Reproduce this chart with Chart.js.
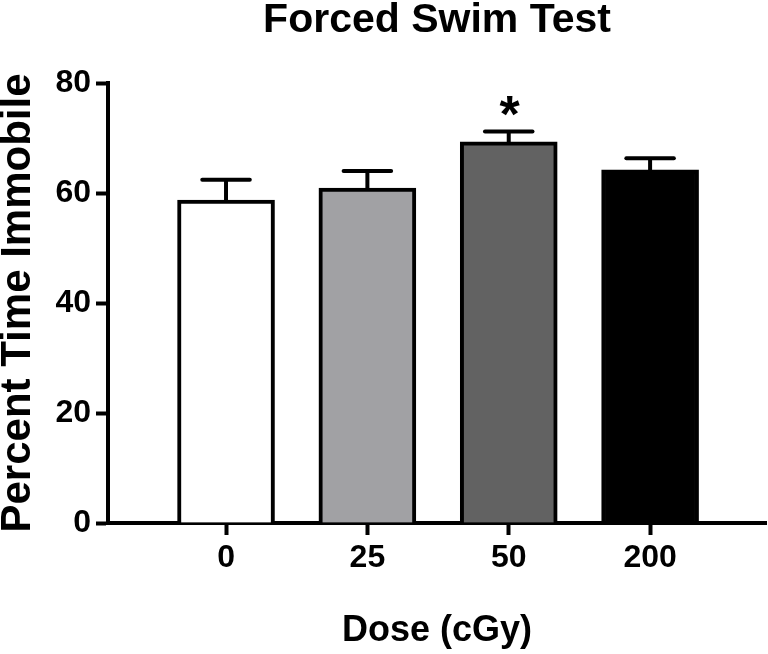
<!DOCTYPE html>
<html>
<head>
<meta charset="utf-8">
<script src="https://cdn.jsdelivr.net/npm/chart.js@4.4.0/dist/chart.umd.min.js"></script>
<style>
  html, body { margin: 0; padding: 0; background: #ffffff; }
  #wrap { width: 768px; height: 654px; position: relative; }
</style>
</head>
<body>
<div id="wrap"><canvas id="c"></canvas></div>
<script>
// ---- data ----
const chartTitle = 'Forced Swim Test';
const xAxisTitle = 'Dose (cGy)';
const yAxisTitle = 'Percent Time Immobile';
const doses = ['0', '25', '50', '200'];
const meanImmobile = [58.7, 60.9, 69.3, 64.2];
const semImmobile = [3.7, 3.1, 1.9, 2.1];
const significance = ['', '', '*', ''];
const yTicks = [0, 20, 40, 60, 80];
const barColors = ['#ffffff', '#a1a1a4', '#626262', '#000000'];

const FONT = '"Liberation Sans", Arial, Helvetica, sans-serif';

const errorBarPlugin = {
  id: 'errorBars',
  afterDatasetsDraw(chart) {
    const ctx = chart.ctx;
    const meta = chart.getDatasetMeta(0);
    const ys = chart.scales.y;
    ctx.save();
    ctx.strokeStyle = '#000';
    ctx.fillStyle = '#000';
    ctx.lineWidth = 4;
    meta.data.forEach((bar, i) => {
      const x = bar.x;
      const yTop = ys.getPixelForValue(meanImmobile[i]);
      const yCap = ys.getPixelForValue(meanImmobile[i] + semImmobile[i]);
      const half = bar.width * 0.245;
      ctx.lineCap = 'butt';
      ctx.beginPath();
      ctx.moveTo(x, yTop + 2);
      ctx.lineTo(x, yCap);
      ctx.stroke();
      ctx.lineCap = 'round';
      ctx.beginPath();
      ctx.moveTo(x - half, yCap);
      ctx.lineTo(x + half, yCap);
      ctx.stroke();
      if (significance[i]) {
        ctx.font = 'bold 52px ' + FONT;
        ctx.textAlign = 'center';
        ctx.textBaseline = 'alphabetic';
        ctx.fillText(significance[i], x + 1, yCap + 1);
      }
    });
    ctx.restore();
  }
};

new Chart(document.getElementById('c'), {
  type: 'bar',
  data: {
    datasets: [{
      data: doses.map((d, i) => ({ x: i, y: meanImmobile[i] })),
      backgroundColor: barColors,
      borderColor: '#000000',
      borderWidth: 4,
      borderSkipped: 'start',
      barThickness: 97
    }]
  },
  options: {
    responsive: true,
    maintainAspectRatio: false,
    animation: false,
    layout: { padding: { left: 0, right: 2, top: 0, bottom: 0 } },
    plugins: {
      legend: { display: false },
      tooltip: { enabled: false },
      title: {
        display: true,
        text: chartTitle,
        fullSize: false,
        color: '#000',
        font: { family: FONT, size: 41, weight: 'bold', lineHeight: 1 },
        padding: { top: 0, bottom: 42 }
      }
    },
    scales: {
      x: {
        type: 'linear',
        offset: false,
        min: -0.835,
        max: 3.82,
        afterBuildTicks: (axis) => { axis.ticks = doses.map((d, i) => ({ value: i })); },
        afterFit: (scale) => { scale.height = 131; },
        ticks: {
          callback: (v) => doses[v],
          color: '#000',
          font: { family: FONT, size: 32, weight: 'bold' },
          padding: 4,
          maxRotation: 0,
          autoSkip: false
        },
        grid: {
          display: true,
          offset: false,
          drawOnChartArea: false,
          drawTicks: true,
          tickLength: 12,
          tickWidth: 4,
          tickColor: '#000',
          color: '#000'
        },
        border: { display: true, color: '#000', width: 4 },
        title: {
          display: true,
          text: xAxisTitle,
          color: '#000',
          font: { family: FONT, size: 36, weight: 'bold', lineHeight: 1 },
          padding: { top: 0, bottom: 5 }
        }
      },
      y: {
        min: yTicks[0],
        max: yTicks[yTicks.length - 1],
        afterBuildTicks: (axis) => { axis.ticks = yTicks.map(v => ({ value: v })); },
        afterFit: (scale) => { scale.width = 108; },
        ticks: {
          color: '#000',
          font: { family: FONT, size: 32, weight: 'bold' },
          padding: 5
        },
        grid: {
          display: true,
          drawOnChartArea: false,
          drawTicks: true,
          tickLength: 12,
          tickWidth: 4,
          tickColor: '#000',
          color: '#000'
        },
        border: { display: true, color: '#000', width: 4 },
        title: {
          display: true,
          text: yAxisTitle,
          color: '#000',
          font: { family: FONT, size: 42, weight: 'bold', lineHeight: 0.86 },
          padding: { top: 0, bottom: 0 }
        }
      }
    }
  },
  plugins: [errorBarPlugin]
});
</script>
</body>
</html>
